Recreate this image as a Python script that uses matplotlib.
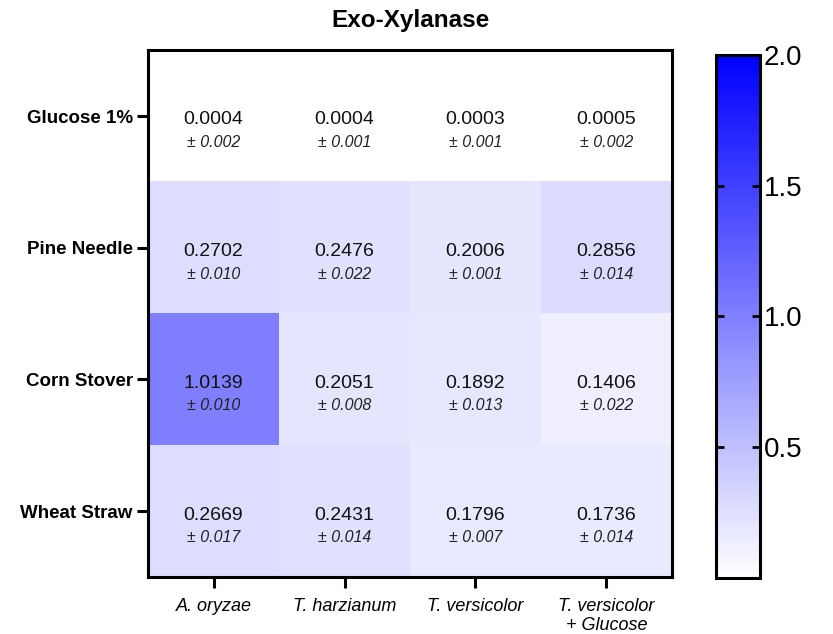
import matplotlib
matplotlib.use("Agg")
import matplotlib.pyplot as plt
import numpy as np
from matplotlib.colors import LinearSegmentedColormap

plt.rcParams['font.family'] = ['Liberation Sans', 'DejaVu Sans']

substrates = ["Glucose 1%", "Pine Needle", "Corn Stover", "Wheat Straw"]
strains = ["A. oryzae", "T. harzianum", "T. versicolor", "T. versicolor\n+ Glucose"]

activity = np.array([
    [0.0004, 0.0004, 0.0003, 0.0005],
    [0.2702, 0.2476, 0.2006, 0.2856],
    [1.0139, 0.2051, 0.1892, 0.1406],
    [0.2669, 0.2431, 0.1796, 0.1736],
])
errors = np.array([
    [0.002, 0.001, 0.001, 0.002],
    [0.010, 0.022, 0.001, 0.014],
    [0.010, 0.008, 0.013, 0.022],
    [0.017, 0.014, 0.007, 0.014],
])
cbar_ticks = [0.5, 1.0, 1.5, 2.0]

cmap = LinearSegmentedColormap.from_list("wb", ["#ffffff", "#0000ff"])

fig = plt.figure(figsize=(8.33, 6.34), dpi=100)
ax = fig.add_axes([0.1777, 0.0899, 0.629, 0.831])
cax = fig.add_axes([0.8595, 0.0883, 0.0528, 0.825])

im = ax.imshow(activity, cmap=cmap, vmin=0, vmax=2.0, aspect='auto')

for i in range(len(substrates)):
    for j in range(len(strains)):
        ax.text(j, i + 0.03, f"{activity[i, j]:.4f}", ha='center', va='center',
                fontsize=14, color='#111111')
        ax.text(j, i + 0.2, f"\u00b1 {errors[i, j]:.3f}", ha='center', va='center',
                fontsize=11.5, style='italic', color='#222222')

ax.set_xticks(range(len(strains)))
ax.set_xticklabels(strains, fontsize=13, style='italic')
ax.set_yticks(range(len(substrates)))
ax.set_yticklabels(substrates, fontsize=13.5, fontweight='bold')
ax.tick_params(axis='both', length=8, width=2.2, direction='out', pad=3)
ax.tick_params(axis='x', pad=7)
for s in ax.spines.values():
    s.set_linewidth(2.2)
ax.set_title("Exo-Xylanase", fontsize=17.5, fontweight='bold', pad=17)

cb = fig.colorbar(im, cax=cax, ticks=cbar_ticks)
cb.outline.set_linewidth(2.2)
cax.tick_params(axis='y', direction='in', length=6, width=2, labelsize=20,
                left=True, right=True, pad=3)
cax.set_yticklabels([f"{t:.1f}" for t in cbar_ticks])

fig.savefig("out.png", dpi=100)
